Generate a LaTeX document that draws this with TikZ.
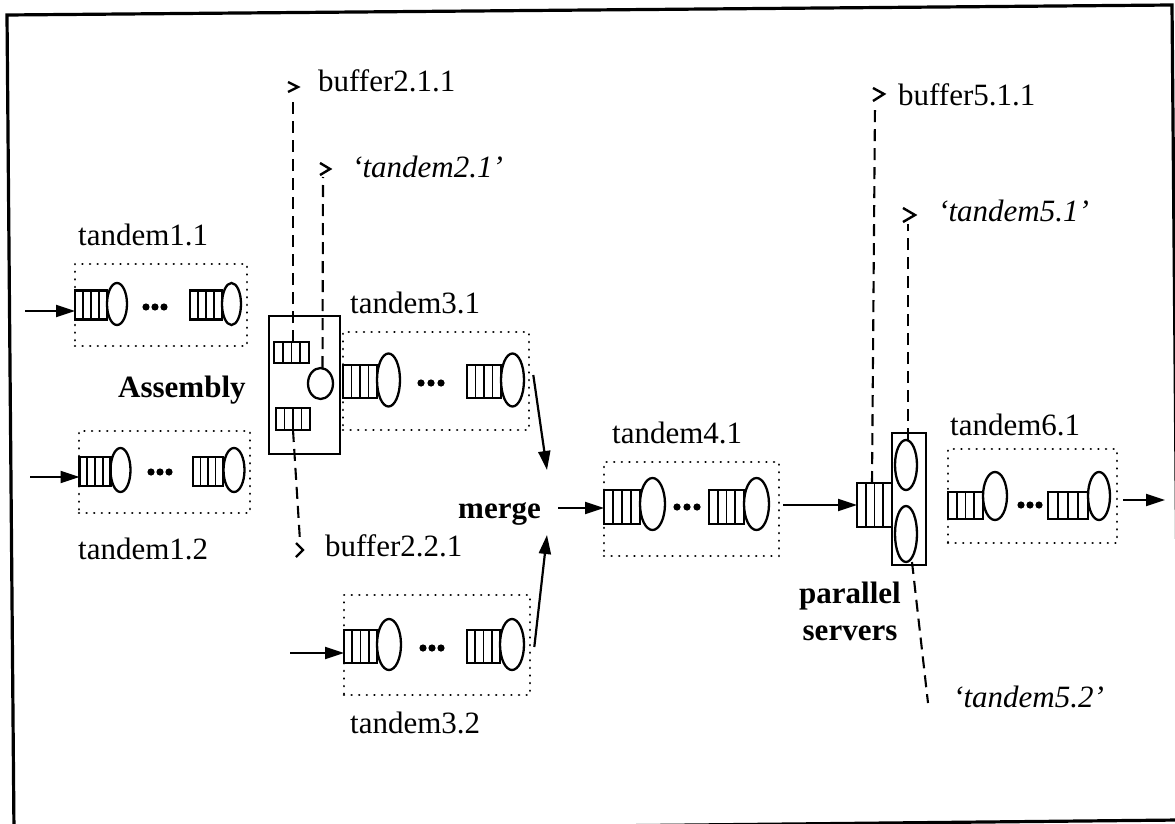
\documentclass[tikz,border=0pt]{standalone}
\usepackage{fontspec}
\setmainfont{Liberation Serif}
\usetikzlibrary{arrows.meta,shapes.geometric,calc}

\tikzset{
  lbl/.style={inner sep=0pt, anchor=base west, font=\fontsize{31}{36}\selectfont},
  blbl/.style={inner sep=0pt, anchor=base west, font=\fontsize{31}{36}\selectfont\bfseries},
  ilbl/.style={inner sep=0pt, anchor=base west, font=\fontsize{31}{36}\selectfont\itshape},
  % queue buffer with three compartment walls
  buf/.style 2 args={draw, line width=2.3pt, inner sep=0pt, outer sep=0pt,
    minimum width=#1pt, minimum height=#2pt,
    path picture={\foreach \i in {1,2,3}{
      \draw[line width=1.8pt]
        ($(path picture bounding box.north west)!\i/4!(path picture bounding box.north east)$) --
        ($(path picture bounding box.south west)!\i/4!(path picture bounding box.south east)$);}}},
  srv/.style 2 args={draw, ellipse, line width=2.3pt, inner sep=0pt, outer sep=0pt,
    minimum width=#1pt, minimum height=#2pt},
  tbox/.style 2 args={draw, line width=2.6pt, dash pattern=on 0.01pt off 7.6pt, line cap=round,
    inner sep=0pt, minimum width=#1pt, minimum height=#2pt},
  sbox/.style 2 args={draw, line width=2.2pt, inner sep=0pt, outer sep=0pt,
    minimum width=#1pt, minimum height=#2pt},
  arr/.style={line width=2.2pt, -{Triangle[length=19pt,width=12pt]}},
  dsh/.style={line width=2.1pt, dash pattern=on 12pt off 7pt},
  chev/.style={line width=2.4pt, line join=miter},
  dotb/.style={fill=black}
}

\begin{document}
\begin{tikzpicture}[x=1pt,y=-1pt]
\useasboundingbox (0,0) rectangle (1175,824);

% outer frame (slightly tilted)
\draw[line width=3.2pt] (14,832) -- (7,15) -- (1172,5) -- (1179,820) -- cycle;

% ---------------- tandem1.1 ----------------
\node[tbox={172}{82}] (t11) at (161,305) {};
\node[buf={32}{29}] (b11a) at (91,305) {};
\node[srv={20}{42}] (s11a) at (117,304) {};
\node[buf={32}{29}] (b11b) at (206,305) {};
\node[srv={19}{42}] (s11b) at (231.5,304) {};
\foreach \x in {146,155,164} \fill (\x,307) circle (3.6pt);
\coordinate (in11) at (25,311);
\draw[arr] (in11) -- (b11a.west |- in11);
\node[lbl] (l11) at (78,245) {tandem1.1};

% ---------------- tandem1.2 ----------------
\node[tbox={171}{82}] (t12) at (164.5,472) {};
\node[buf={31}{29}] (b12a) at (95,471.5) {};
\node[srv={20}{44}] (s12a) at (120.5,470) {};
\node[buf={30}{29}] (b12b) at (208,471.5) {};
\node[srv={21}{44}] (s12b) at (234,470) {};
\foreach \x in {151,160,169} \fill (\x,472) circle (3.6pt);
\coordinate (in12) at (30,477);
\draw[arr] (in12) -- (b12a.west |- in12);
\node[lbl] (l12) at (78,559) {tandem1.2};

% ---------------- assembly station ----------------
\node[sbox={71}{138}] (asm) at (304.5,385) {};
\node[buf={35}{21}] (bat) at (291.5,352.5) {};
\node[buf={34}{22}] (bab) at (293,419) {};
\node[srv={25}{31}] (sa) at (320.5,383.5) {};
\node[blbl] (lasm) at (118,397) {Assembly};

% ---------------- tandem3.1 ----------------
\node[tbox={186}{98}] (t31) at (436,381) {};
\node[buf={34}{33}] (b31a) at (360,381.5) {};
\node[srv={23}{53}] (s31a) at (388.5,380) {};
\node[buf={34}{33}] (b31b) at (484,381.5) {};
\node[srv={23}{53}] (s31b) at (512.5,380) {};
\foreach \x in {421,431,441} \fill (\x,383) circle (3.6pt);
\node[lbl] (l31) at (350,313) {tandem3.1};

% ---------------- tandem3.2 ----------------
\node[tbox={186}{100}] (t32) at (437,645) {};
\node[buf={33}{33}] (b32a) at (360.5,646.5) {};
\node[srv={24}{51}] (s32a) at (389,644.5) {};
\node[buf={33}{33}] (b32b) at (483.5,646.5) {};
\node[srv={24}{51}] (s32b) at (512,644.5) {};
\foreach \x in {423,432,441} \fill (\x,648) circle (3.6pt);
\coordinate (in32) at (290,653);
\draw[arr] (in32) -- (b32a.west |- in32);
\node[lbl] (l32) at (350,733) {tandem3.2};

% ---------------- merge ----------------
\node[blbl] (lmerge) at (458,518) {merge};
\coordinate (m1) at (547,470);
\coordinate (m2) at (547,535);
\coordinate (mo) at (558,508);
\draw[arr] ($(t31.east)+(3,-6)$) -- (m1);
\draw[arr] ($(t32.east)+(3,2)$) -- (m2);

% ---------------- tandem4.1 ----------------
\node[tbox={175}{94}] (t41) at (691.5,509) {};
\node[buf={36}{34}] (b41a) at (622,507) {};
\node[srv={25}{52}] (s41a) at (652.5,504) {};
\node[buf={35}{34}] (b41b) at (726.5,507) {};
\node[srv={25}{52}] (s41b) at (756.5,504) {};
\foreach \x in {677,687,697} \fill (\x,507) circle (3.6pt);
\draw[arr] (mo) -- (b41a.west |- mo);
\node[lbl] (l41) at (612,443) {tandem4.1};

% ---------------- parallel servers ----------------
\node[sbox={34}{132}] (pbox) at (909,499) {};
\node[buf={35}{44}] (pbuf) at (874.5,505) {};
\node[srv={22}{50}] (ps1) at (906,465) {};
\node[srv={22}{56}] (ps2) at (906,534) {};
\draw[arr] ($(t41.east |- pbuf.west)+(3,0)$) -- (pbuf.west);
\node[blbl, anchor=base] (lpar) at (850,603) {parallel};
\node[blbl, anchor=base] (lsrv) at (850,640) {servers};

% ---------------- tandem6.1 ----------------
\node[tbox={169}{94}] (t61) at (1032.5,496) {};
\node[buf={35}{27}] (b61a) at (965.5,505.5) {};
\node[srv={24}{48}] (s61a) at (995,496) {};
\node[buf={40}{27}] (b61b) at (1068,505.5) {};
\node[srv={22}{48}] (s61b) at (1099,496) {};
\foreach \x in {1021,1030,1039} \fill (\x,505) circle (3.6pt);
\coordinate (out61) at (1165,500);
\draw[arr] ($(t61.east |- out61)+(5,0)$) -- (out61);
\node[lbl] (l61) at (950,435) {tandem6.1};

% ---------------- references to other stations ----------------
\coordinate (c1) at (293,95);
\coordinate (c2) at (323,177);
\coordinate (c3) at (300,541);
\coordinate (c4) at (875,104);
\coordinate (c5) at (908,224);
\coordinate (c6) at (928,703);

\draw[dsh] ($(bat.north)+(1.5,0)$) -- (c1);
\draw[dsh] ($(sa.north)+(2,0)$) -- (c2);
\draw[dsh] (bab.south) -- (c3);
\draw[dsh] ($(pbuf.north)+(-2.5,0)$) -- (c4);
\draw[dsh] ($(ps1.north)+(2,0)$) -- (c5);
\draw[dsh] ($(ps2.south)+(6,0)$) -- (c6);

\draw[chev] (c1) ++(-5,-13) -- ++(10,5) -- ++(-10,5);
\draw[chev] (c2) ++(-3,-14) -- ++(10,6) -- ++(-10,6);
\draw[chev] (c3) ++(-4,2) -- ++(7,7) -- ++(-7,7);
\draw[chev] (c4) ++(-2,-16) -- ++(11,6) -- ++(-11,7);
\draw[chev] (c5) ++(-5,-16) -- ++(12,7) -- ++(-12,7);

\node[lbl] (lb211) at (318,92) {buffer2.1.1};
\node[ilbl] (lt21) at (352,177) {‘tandem2.1’};
\node[lbl] (lb221) at (325,556) {buffer2.2.1};
\node[lbl] (lb511) at (898,106) {buffer5.1.1};
\node[ilbl] (lt51) at (938,221) {‘tandem5.1’};
\node[ilbl] (lt52) at (953,707) {‘tandem5.2’};

\end{tikzpicture}
\end{document}
